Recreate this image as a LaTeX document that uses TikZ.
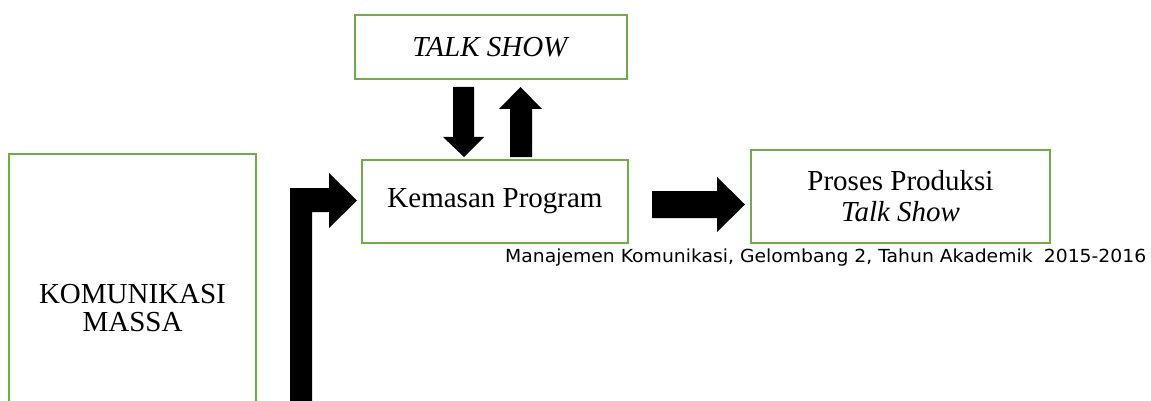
\documentclass[tikz,border=0pt]{standalone}
\usepackage{fontspec}
\setmainfont{Liberation Serif}
\newfontfamily\footfont{DejaVu Sans}
\definecolor{boxgreen}{HTML}{70AD47}
\tikzset{
  gbox/.style={draw=boxgreen, line width=2.6pt, rectangle, inner sep=0pt, align=center,
    font=\fontsize{29}{31}\selectfont},
  blockarrow/.style={fill=black, draw=none}
}
\begin{document}
\begin{tikzpicture}[x=1pt,y=-1pt]
\useasboundingbox (0,0) rectangle (1151,401);
\clip (0,0) rectangle (1151,401);
% boxes
\node[gbox, minimum width=272pt, minimum height=64pt] (ts) at (491,47) {\textit{TALK SHOW}};
\node[gbox, minimum width=266pt, minimum height=83pt] (kp) at (495,201.5) {Kemasan Program};
\node[gbox, minimum width=299pt, minimum height=93pt] (pp) at (900.5,196.5) {Proses Produksi\\\textit{Talk Show}};
\node[gbox, minimum width=247pt, minimum height=308pt, font=\fontsize{29}{28}\selectfont] (km) at (132.5,308) {KOMUNIKASI\\MASSA};
% footer text
\node[anchor=base west, inner sep=0pt] (ft) at (505,262)
  {\resizebox{641pt}{\height}{\footfont\fontsize{18}{20}\selectfont Manajemen Komunikasi, Gelombang 2, Tahun Akademik\hspace{0.6em}2015-2016}};
% block arrows
\fill[blockarrow] (453,87) -- (474,87) -- (474,137) -- (484,137) -- (464,157) -- (443,137) -- (453,137) -- cycle;
\fill[blockarrow] (510,157) -- (532,157) -- (532,109) -- (542,109) -- (520.5,87) -- (499,109) -- (510,109) -- cycle;
\fill[blockarrow] (652,191) -- (717,191) -- (717,177) -- (745,204.5) -- (717,232) -- (717,218) -- (652,218) -- cycle;
\fill[blockarrow] (290,420) -- (290,188) -- (329,188) -- (329,173) -- (357,200.5) -- (329,228) -- (329,212) -- (312,212) -- (312,420) -- cycle;
\end{tikzpicture}
\end{document}
